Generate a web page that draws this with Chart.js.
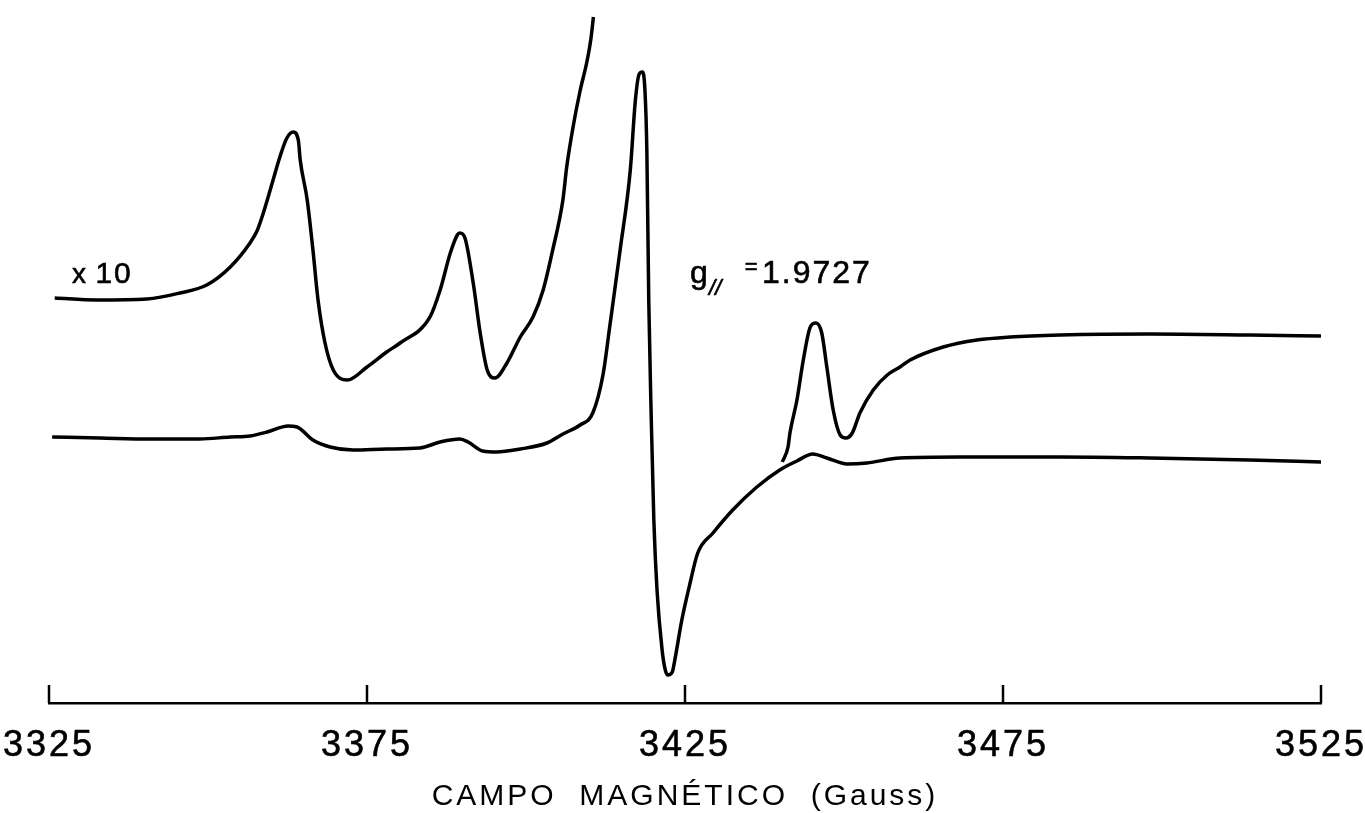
<!DOCTYPE html>
<html>
<head>
<meta charset="utf-8">
<script src="https://cdn.jsdelivr.net/npm/chart.js@4.4.1/dist/chart.umd.min.js"></script>
<style>
  html, body { margin: 0; padding: 0; background: #fff; }
  #wrap { width: 1365px; height: 813px; position: relative; }
</style>
</head>
<body>
<div id="wrap"><canvas id="c"></canvas></div>
<script>
// ---- Data (magnetic field in Gauss, signal in arbitrary units) ----
const xTicks = [3325, 3375, 3425, 3475, 3525];

// Main spectrum (x1)
const mainField = [3325.5, 3333.0, 3340.9, 3348.7, 3353.5, 3356.6, 3359.3, 3362.6, 3364.0, 3366.5,
  3369.2, 3372.8, 3378.1, 3383.3, 3386.5, 3389.6, 3390.9, 3393.2, 3395.4, 3399.1,
  3403.3, 3405.8, 3408.5, 3410.5, 3412.1, 3413.2, 3414.8, 3416.4, 3417.2, 3417.8,
  3418.3, 3418.7, 3419.0, 3419.3, 3419.7, 3420.1, 3420.6, 3421.4, 3421.9, 3422.3,
  3423.0, 3423.4, 3424.5, 3425.8, 3427.0, 3429.4, 3432.5, 3436.3, 3439.9, 3442.6,
  3445.1, 3447.3, 3450.5, 3453.6, 3458.8, 3468.2, 3484.0, 3498.1, 3513.8, 3525.0];
const mainSignal = [266, 265, 264, 264, 266, 267, 271, 277, 276, 263,
  256, 253, 254, 255, 261, 264, 261, 252, 251, 254,
  260, 269, 278, 290, 328, 378, 453, 533, 603, 629,
  631, 613, 553, 403, 283, 183, 113, 53, 33, 28,
  31, 43, 83, 120, 150, 170, 193, 216, 233, 242,
  249, 245, 239, 240, 245, 246, 246, 245, 243, 241];

// Expanded spectrum (x10), low-field part
const x10LowField = [3325.9, 3332.5, 3340.4, 3345.6, 3349.8, 3353.5, 3356.6, 3357.7, 3358.6, 3360.1,
  3361.3, 3362.4, 3363.4, 3364.2, 3364.5, 3365.6, 3366.5, 3367.3, 3368.4, 3369.7,
  3371.9, 3375.0, 3378.1, 3380.2, 3384.9, 3386.5, 3388.1, 3389.2, 3389.6, 3390.4,
  3391.7, 3392.8, 3393.9, 3395.1, 3397.0, 3399.1, 3401.1, 3402.7, 3404.2, 3405.8,
  3406.4, 3407.4, 3408.5, 3409.6, 3410.2, 3410.6];
const x10LowSignal = [405, 403, 404, 410, 418, 436, 460, 472, 488, 520,
  546, 565, 571, 563, 543, 503, 453, 403, 360, 333,
  323, 336, 351, 360, 386, 413, 450, 468, 470, 465,
  420, 370, 333, 325, 340, 366, 386, 413, 453, 503,
  536, 576, 612, 642, 664, 686];

// Expanded spectrum (x10), high-field part
const x10HighField = [3440.3, 3441.2, 3441.5, 3442.6, 3443.6, 3444.7, 3445.6, 3446.5, 3447.3, 3448.3,
  3449.4, 3450.3, 3451.3, 3452.5, 3454.6, 3456.8, 3458.8, 3460.4, 3465.6, 3470.9,
  3476.1, 3484.0, 3498.1, 3513.8, 3525.0];
const x10HighSignal = [241, 256, 270, 303, 343, 376, 380, 370, 336, 293,
  268, 265, 270, 290, 313, 328, 336, 343, 356, 363,
  366, 368, 369, 368, 367];

const pts = (xs, ys) => xs.map((x, i) => ({ x: x, y: ys[i] }));

const lineStyle = {
  borderColor: '#000',
  borderWidth: 3.5,
  pointRadius: 0,
  fill: false,
  cubicInterpolationMode: 'monotone',
  clip: false
};

// Upward tick marks + annotations
const decor = {
  id: 'decor',
  beforeDraw(chart) {
    chart.ctx.letterSpacing = '3px';
  },
  afterDraw(chart) {
    const ctx = chart.ctx;
    const xs = chart.scales.x, ys = chart.scales.y;
    const bottom = chart.chartArea.bottom;
    ctx.save();
    ctx.strokeStyle = '#000';
    ctx.lineWidth = 2.5;
    xTicks.forEach(v => {
      const px = xs.getPixelForValue(v);
      ctx.beginPath();
      ctx.moveTo(px, bottom);
      ctx.lineTo(px, bottom - 18);
      ctx.stroke();
    });
    ctx.fillStyle = '#000';
    ctx.lineWidth = 0.6;
    ctx.textBaseline = 'alphabetic';
    ctx.letterSpacing = '0px';
    const base = ys.getPixelForValue(420);
    const txt = (s, x, y) => { ctx.fillText(s, x, y); ctx.strokeText(s, x, y); };
    // "x 10"
    ctx.font = '28px "Liberation Sans"';
    txt('x', xs.getPixelForValue(3328.6), base);
    ctx.letterSpacing = '2px';
    ctx.font = '30px "Liberation Sans"';
    txt('10', xs.getPixelForValue(3332.3), base);
    // g// = 1.9727
    ctx.letterSpacing = '0px';
    ctx.font = '32px "Liberation Sans"';
    const gx = xs.getPixelForValue(3425.8);
    txt('g', gx, base);
    ctx.font = 'italic 22px "Liberation Sans"';
    txt('//', gx + 19, base + 12);
    ctx.font = '22px "Liberation Sans"';
    txt('=', xs.getPixelForValue(3434.4), base - 9);
    ctx.letterSpacing = '2px';
    ctx.font = '32px "Liberation Sans"';
    txt('1.9727', xs.getPixelForValue(3437.1), base);
    ctx.restore();
  }
};

new Chart(document.getElementById('c'), {
  type: 'line',
  data: {
    datasets: [
      Object.assign({ label: 'x1', data: pts(mainField, mainSignal) }, lineStyle),
      Object.assign({ label: 'x10 (low)', data: pts(x10LowField, x10LowSignal) }, lineStyle),
      Object.assign({ label: 'x10 (high)', data: pts(x10HighField, x10HighSignal) }, lineStyle)
    ]
  },
  options: {
    responsive: true,
    maintainAspectRatio: false,
    animation: false,
    layout: { padding: { left: 49, right: 44, top: 0, bottom: 0 } },
    plugins: { legend: { display: false }, tooltip: { enabled: false } },
    scales: {
      x: {
        type: 'linear',
        min: 3325,
        max: 3525,
        afterBuildTicks(scale) { scale.ticks = xTicks.map(v => ({ value: v })); },
        afterFit(scale) { scale.paddingLeft = 0; scale.paddingRight = 0; scale.height = 110; },
        grid: { display: false, drawTicks: false },
        border: { display: true, color: '#000', width: 2.5 },
        ticks: {
          color: '#000',
          padding: 25,
          maxRotation: 0,
          autoSkip: false,
          textStrokeColor: '#000',
          textStrokeWidth: 0.6,
          font: { family: '"Liberation Sans"', size: 36, lineHeight: 1 },
          callback: v => String(v)
        },
        title: {
          display: true,
          text: 'CAMPO  MAGNÉTICO  (Gauss)',
          color: '#000',
          font: { family: '"Liberation Sans"', size: 30, lineHeight: 1 },
          padding: { top: 4, bottom: 1 }
        }
      },
      y: {
        display: false,
        min: 0,
        max: 703
      }
    }
  },
  plugins: [decor]
});
</script>
</body>
</html>
